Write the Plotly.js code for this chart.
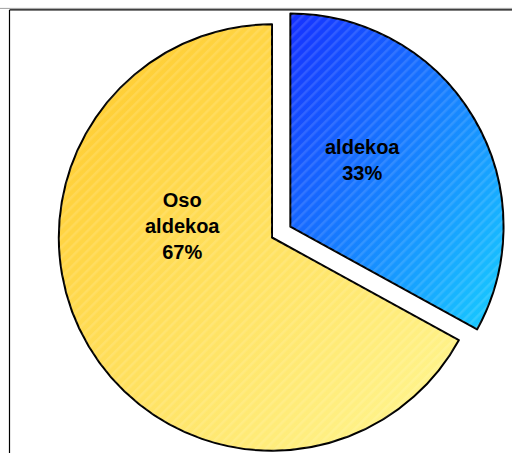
<!DOCTYPE html>
<html>
<head>
<meta charset="utf-8">
<script src="https://cdn.plot.ly/plotly-3.0.1.min.js"></script>
<style>
html,body{margin:0;padding:0;overflow:hidden;background:#fff;width:512px;height:453px;}
#chart{width:512px;height:480px;}
</style>
</head>
<body>
<div id="chart"></div>
<script>
// Data
const categories = ['aldekoa', 'Oso aldekoa'];
const values = [33, 67];
const labelLines = ['aldekoa', 'Oso<br>aldekoa'];
const pulls = [0.1, 0];

const baseColors = ['#1f66ff', '#ffe066'];
const gradients = [
  {id: 'gBlue', from: '#1530ff', to: '#18d0ff'},
  {id: 'gYellow', from: '#ffc826', to: '#fff896'}
];

const total = values.reduce((a, b) => a + b, 0);
const pctText = values.map(v => Math.round(100 * v / total) + '%');

// label positions (paper coords) for the in-slice texts
const labelPos = [
  {x: (362 - 32) / 480, y: 1 - (160 - 2.6) / 469.8},
  {x: (182 - 32) / 480, y: 1 - (226 - 2.6) / 469.8}
];

const trace = {
  type: 'pie',
  labels: categories,
  values: values,
  sort: false,
  direction: 'clockwise',
  rotation: 0,
  pull: pulls,
  textinfo: 'none',
  hoverinfo: 'none',
  marker: {colors: baseColors, line: {color: '#000', width: 2}},
  domain: {x: [0, 1], y: [0, 1]}
};

const annotations = categories.map((c, i) => ({
  xref: 'paper', yref: 'paper',
  x: labelPos[i].x, y: labelPos[i].y,
  xanchor: 'center', yanchor: 'middle',
  text: '<b>' + labelLines[i] + '<br>' + pctText[i] + '</b>',
  showarrow: false,
  align: 'center',
  font: {family: 'Liberation Sans, Arial, sans-serif', size: 20, color: '#000'}
}));

const layout = {
  width: 512, height: 480,
  margin: {l: 32, r: 0, t: 2.6, b: 7.6},
  showlegend: false,
  paper_bgcolor: '#fff',
  annotations: annotations,
  shapes: [
    {type: 'line', xref: 'paper', yref: 'paper', x0: -0.2, x1: 1.2,
     y0: 1 - (8 - 2.6) / 469.8, y1: 1 - (8 - 2.6) / 469.8, line: {color: '#a0a0a0', width: 1}},
    {type: 'line', xref: 'paper', yref: 'paper', x0: (9.5 - 32) / 480, x1: 1.2,
     y0: 1 - (9.5 - 2.6) / 469.8, y1: 1 - (9.5 - 2.6) / 469.8, line: {color: '#000', width: 1.2}},
    {type: 'line', xref: 'paper', yref: 'paper', x0: (9.5 - 32) / 480, x1: (9.5 - 32) / 480,
     y0: 1 - (9.5 - 2.6) / 469.8, y1: -0.1, line: {color: '#000', width: 1.2}}
  ]
};

Plotly.newPlot('chart', [trace], layout, {displayModeBar: false, staticPlot: true}).then(gd => {
  const NS = 'http://www.w3.org/2000/svg';
  const svg = gd.querySelector('svg.main-svg');
  let defs = svg.querySelector('defs');
  if (!defs) { defs = document.createElementNS(NS, 'defs'); svg.insertBefore(defs, svg.firstChild); }
  gradients.forEach(g => {
    const lg = document.createElementNS(NS, 'linearGradient');
    lg.setAttribute('id', g.id);
    lg.setAttribute('x1', '0'); lg.setAttribute('y1', '0');
    lg.setAttribute('x2', '1'); lg.setAttribute('y2', '1');
    [[0, g.from], [1, g.to]].forEach(([o, c]) => {
      const s = document.createElementNS(NS, 'stop');
      s.setAttribute('offset', o); s.setAttribute('stop-color', c);
      lg.appendChild(s);
    });
    defs.appendChild(lg);
  });
  const pat = document.createElementNS(NS, 'pattern');
  pat.setAttribute('id', 'hatch');
  pat.setAttribute('patternUnits', 'userSpaceOnUse');
  pat.setAttribute('width', '7'); pat.setAttribute('height', '7');
  pat.setAttribute('patternTransform', 'rotate(45)');
  const r = document.createElementNS(NS, 'rect');
  r.setAttribute('x', '0'); r.setAttribute('y', '0');
  r.setAttribute('width', '2.5'); r.setAttribute('height', '7');
  r.setAttribute('fill', '#ffffff'); r.setAttribute('fill-opacity', '0.12');
  pat.appendChild(r);
  defs.appendChild(pat);

  const paths = gd.querySelectorAll('g.slice path.surface');
  paths.forEach((p, i) => {
    p.style.fill = 'url(#' + gradients[i].id + ')';
    const c = p.cloneNode(false);
    c.style.fill = 'url(#hatch)';
    c.style.stroke = 'none';
    p.parentNode.insertBefore(c, p.nextSibling);
  });
});
</script>
</body>
</html>
